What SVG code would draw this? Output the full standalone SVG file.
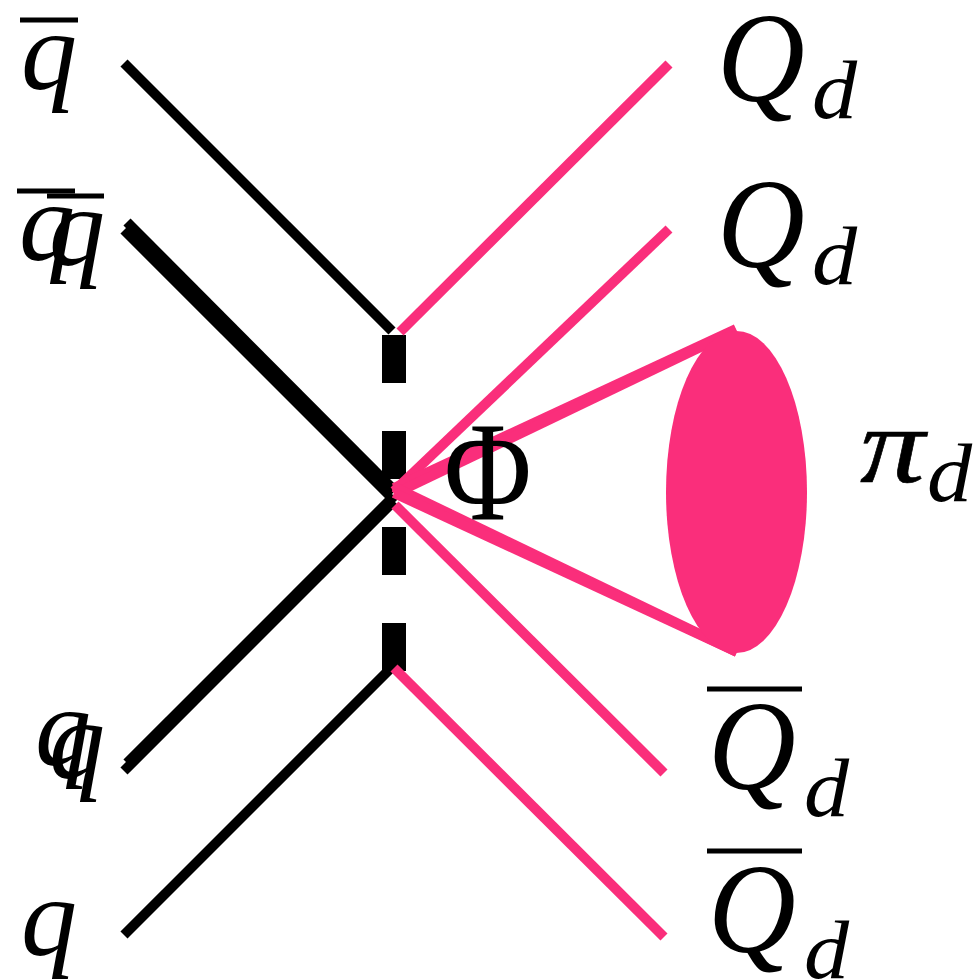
<svg xmlns="http://www.w3.org/2000/svg" width="976" height="980" viewBox="0 0 976 980">
<style>
.q{font-family:"Liberation Serif",serif;font-style:italic;font-size:112px;fill:#000}
.Q{font-family:"Liberation Serif",serif;font-style:italic;font-size:128px;fill:#000}
.d{font-family:"Liberation Serif",serif;font-style:italic;font-size:82px;fill:#000}
.b{stroke:#000;fill:none}
.p{stroke:#fa2e7b;fill:none}
</style>
<rect width="976" height="980" fill="#fff"/>
<g id="connectors">
<path class="b" stroke-width="10" d="M124 63L392 331"/>
<path class="b" stroke-width="10" d="M127 222L394 490"/>
<path class="b" stroke-width="10" d="M124 230L390 496"/>
<path class="b" stroke-width="10" d="M127 763L394 496"/>
<path class="b" stroke-width="10" d="M124 771L394 501"/>
<path class="b" stroke-width="10" d="M124 935L394 665"/>
<path class="b" stroke-width="24" stroke-dasharray="48 48" d="M394 335V671"/>
<path class="p" stroke-width="10" d="M400 332L669 64"/>
<path class="p" stroke-width="10" d="M394 491L669 229"/>
<path class="p" stroke-width="10" d="M394 488L736 329"/>
<path class="p" stroke-width="10" d="M394 494L736 330"/>
<path class="p" stroke-width="10" d="M394 487L737 652"/>
<path class="p" stroke-width="10" d="M394 493L737 652"/>
<path class="p" stroke-width="10" d="M395 505L664 773"/>
<path class="p" stroke-width="10" d="M394 668L664 937"/>
</g>
<g id="blob"><ellipse cx="736.5" cy="492" rx="70.5" ry="161" fill="#fa2e7b"/></g>
<g id="labels">
<text class="q" x="21" y="89">q</text><path class="b" stroke-width="5" d="M20 20H78"/>
<text class="q" x="19" y="260">q</text><path class="b" stroke-width="5" d="M17 191H75"/>
<text class="q" x="49" y="265">q</text><path class="b" stroke-width="5" d="M47 196H104"/>
<text class="q" x="35" y="765">q</text>
<text class="q" x="49" y="778">q</text>
<text class="q" x="21" y="955">q</text>
<text transform="translate(444 519) scale(.85 1)" font-size="141" font-family="Liberation Serif,serif">Φ</text>
<text class="Q" transform="translate(717 101) scale(.95 1)">Q</text><text class="d" transform="translate(812 118) scale(1.1 1)">d</text>
<text class="Q" transform="translate(717 267) scale(.95 1)">Q</text><text class="d" transform="translate(812 284) scale(1.1 1)">d</text>
<text class="Q" transform="translate(708 789) scale(.95 1)">Q</text><text class="d" transform="translate(804 816) scale(1.1 1)">d</text><path class="b" stroke-width="5" d="M707 689H802"/>
<text class="Q" transform="translate(708 952) scale(.95 1)">Q</text><text class="d" transform="translate(804 978) scale(1.1 1)">d</text><path class="b" stroke-width="5" d="M707 851H802"/>
<text class="Q" transform="translate(860 482) scale(1.2 1)" style="font-size:108px" stroke="#000" stroke-width=".6">π</text><text class="d" transform="translate(927 501) scale(1.1 1)">d</text>
</g>
</svg>
